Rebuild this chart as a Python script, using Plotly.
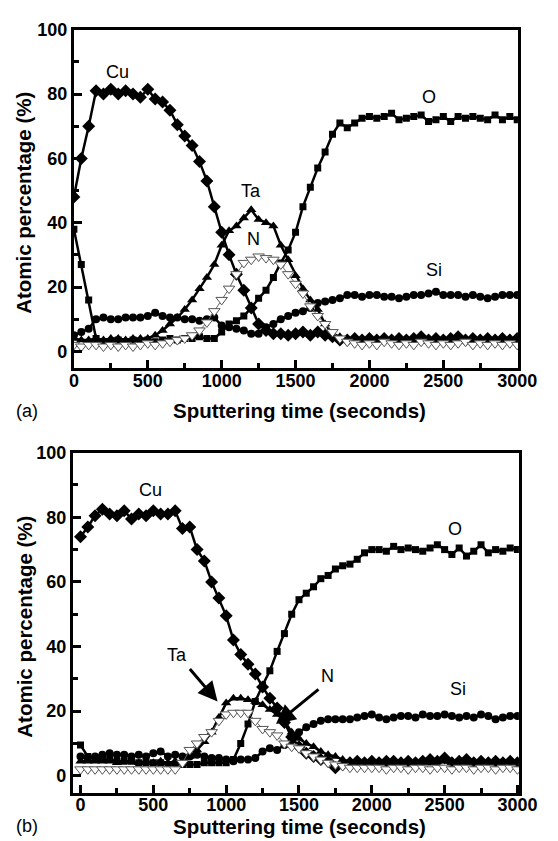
import plotly.graph_objects as go

# ---------------- data ----------------
TIME = [0, 50, 100, 150, 200, 250, 300, 350, 400, 450,
        500, 550, 600, 650, 700, 750, 800, 850, 900, 950,
        1000, 1050, 1100, 1150, 1200, 1250, 1300, 1350, 1400, 1450,
        1500, 1550, 1600, 1650, 1700, 1750, 1800, 1850, 1900, 1950,
        2000, 2050, 2100, 2150, 2200, 2250, 2300, 2350, 2400, 2450,
        2500, 2550, 2600, 2650, 2700, 2750, 2800, 2850, 2900, 2950, 3000]

# panel (a)
CU_A = [48, 60, 70, 81, 80, 81.5, 80, 81, 80, 79,
        81.5, 78.5, 77.5, 75, 70.5, 67, 64, 59, 53, 45,
        37, 30, 24, 19, 13.5, 8.5, 6.5, 5.5, 5.5, 5,
        5.5, 6, 5, 6, 5, 4.5, 3.5, 3.5, 4, 3.5,
        4, 3.5, 4, 3.5, 4, 3.5, 4, 4.5, 3.5, 4,
        3.5, 4, 4.5, 3.5, 4, 3.5, 4, 3.5, 4, 3.5, 4]
O_A = [38, 27, 16, 4, 3, 3, 3.5, 3, 3.5, 3,
       3.5, 3, 3.5, 4, 3.5, 4, 4, 4.5, 4, 4,
       6, 8.5, 9.5, 11, 13.5, 16.5, 19, 23, 27.5, 31.5,
       37, 45, 51, 57, 62, 67.5, 71, 69.5, 71, 72.5,
       73, 72.5, 73, 74, 72, 72.5, 73, 73.5, 71.5, 72,
       73, 71.5, 73, 72.5, 73, 72.5, 72, 73.5, 72, 73, 72]
SI_A = [5, 6, 7, 10, 10.5, 10, 10, 10.5, 10.5, 10.5,
        11, 12, 11, 10.5, 10.5, 10, 10, 9.5, 10, 10.5,
        8, 7.5, 7, 6.5, 5.5, 5.5, 7.5, 8.5, 10, 11,
        12, 12.5, 13.5, 15, 15.5, 16, 16.5, 17.5, 17.5, 17,
        17.5, 17.5, 17, 17, 16.5, 17, 17.5, 17.5, 18, 18.5,
        17.5, 17.5, 17.5, 17, 17.5, 17, 16.5, 17, 17.5, 17.5, 17.5]
TA_A = [4, 3.5, 3.5, 4, 3.5, 4, 4, 3.5, 4, 4,
        4, 5, 6.5, 8.5, 10.5, 13, 16, 19.5, 23, 27,
        33, 37.5, 39, 41.5, 44, 41, 40, 39, 33, 28.5,
        23.5, 19.5, 16, 13, 8.5, 5.5, 4.5, 3.5, 4, 3.5,
        3, 3.5, 4, 3.5, 3, 3.5, 4, 3.5, 3, 4,
        3.5, 3, 4, 3.5, 3, 4, 3.5, 3, 3.5, 4, 3.5]
N_A = [2, 1.5, 2, 2, 1.5, 2, 1.5, 2, 1.5, 2,
       2.5, 2, 2.5, 3, 3.5, 4, 5, 6.5, 9, 12.5,
       16, 19.5, 24, 27.5, 28.5, 29.5, 29, 28.5, 27, 24,
       21, 18, 14, 11, 8.5, 6, 4, 3, 2.5, 2,
       2.5, 2, 3, 2.5, 2, 2.5, 2, 3, 2.5, 2,
       2.5, 2, 2.5, 3, 2, 2.5, 2, 2.5, 2, 2.5, 2]

# panel (b)
CU_B = [74, 77, 80.5, 82.5, 81, 80.5, 82, 79.5, 81, 80.5,
        82, 81, 81, 82, 76.5, 77, 70, 66.5, 60, 55,
        49.5, 42, 37.5, 34.5, 31.5, 27.5, 24, 21, 16.5, 12,
        9, 7, 6, 5, 4.5, 2.5, 3.5, 4, 4.5, 4,
        4.5, 4, 4.5, 4.5, 4, 4.5, 4, 4.5, 5, 4.5,
        5.5, 4, 4.5, 5, 4, 4.5, 4, 4.5, 4, 4.5, 4]
O_B = [9.5, 6, 5.5, 5, 5, 4.5, 4.5, 4.5, 4, 4,
       4, 4, 3.5, 3.5, 3.5, 3.5, 3.5, 4, 4, 4,
       4, 5, 10, 16, 23, 28, 32.5, 38.5, 44, 50,
       54.5, 56.5, 58.5, 61, 62, 64, 65, 65.5, 67, 69,
       70, 70, 69.5, 71, 70, 70.5, 70, 69.5, 70.5, 71.5,
       70, 68.5, 70.5, 68, 69.5, 71.5, 69, 70, 69.5, 70.5, 70]
SI_B = [6, 5.5, 6, 6.5, 7, 6.5, 6.5, 6, 6.5, 6,
        7, 7.5, 6, 6.5, 6, 6, 6.5, 6, 5.5, 5.5,
        5, 4.5, 5, 5, 5.5, 7.5, 8.5, 8, 9.5, 11,
        13.5, 15, 16, 17, 17.5, 17.5, 17.5, 17.5, 18, 18.5,
        19, 18, 17.5, 18, 18.5, 18.5, 18, 19, 18.5, 18.5,
        19, 18.5, 18, 18.5, 18, 19, 18.5, 17.5, 18, 18.5, 18.5]
TA_B = [4.5, 4.5, 4.5, 4.5, 4.5, 4, 4.5, 4.5, 4, 4.5,
        4, 4.5, 4, 4.5, 4.5, 6, 8, 10.5, 13.5, 18,
        22.5, 24, 24, 23.5, 23, 22, 20.5, 19, 17, 13.5,
        11.5, 10, 9, 7.5, 6.5, 6, 5, 4.5, 4.5, 4,
        4, 4.5, 4, 4.5, 4, 4.5, 4, 4.5, 4, 4.5,
        4.5, 4, 4.5, 4, 4.5, 4, 4.5, 4, 4.5, 4, 4.5]
N_B = [2, 2, 2, 2, 2, 2, 2, 2, 2, 2,
       2, 2, 2, 2, 4, 8, 10, 12, 13.5, 17,
       19, 19.5, 19.5, 19.5, 17, 14.5, 13.5, 12.5, 10, 9,
       8.5, 7, 6, 5, 4, 3.5, 3, 2.5, 2.5, 2.5,
       2.5, 2.5, 2, 2.5, 2.5, 2, 2.5, 2.5, 2, 2.5,
       2.5, 2, 2.5, 2.5, 2, 2.5, 2.5, 2, 2.5, 2.5, 2]

W, H = 558, 841
FONT = "Liberation Sans"

fig = go.Figure()


def add_panel(xa, ya, o, si, cu, ta, n):
    common = dict(x=TIME, mode="lines+markers", xaxis=xa, yaxis=ya, showlegend=False)
    fig.add_trace(go.Scatter(y=o, line=dict(color="black", width=2.5),
                             marker=dict(symbol="square", size=7, color="black"), **common))
    fig.add_trace(go.Scatter(y=si, line=dict(color="black", width=2.5),
                             marker=dict(symbol="circle", size=8, color="black"), **common))
    fig.add_trace(go.Scatter(y=cu, line=dict(color="black", width=2.5),
                             marker=dict(symbol="diamond", size=10, color="black"), **common))
    fig.add_trace(go.Scatter(y=ta, line=dict(color="black", width=2.5),
                             marker=dict(symbol="triangle-up", size=9, color="black"), **common))
    fig.add_trace(go.Scatter(y=n, line=dict(color="#666666", width=1),
                             marker=dict(symbol="triangle-down", size=10, color="white",
                                         line=dict(color="#555555", width=1)), **common))


add_panel("x", "y", O_A, SI_A, CU_A, TA_A, N_A)
add_panel("x2", "y2", O_B, SI_B, CU_B, TA_B, N_B)

tickfont = dict(family=FONT, size=18, color="black", weight="bold")
axis_common = dict(showline=True, linewidth=3, linecolor="black", mirror=True,
                   ticks="inside", ticklen=8, tickwidth=3, tickcolor="black",
                   showgrid=False, zeroline=False, tickfont=tickfont)

fig.update_layout(
    width=W, height=H, margin=dict(l=0, r=0, t=0, b=0),
    paper_bgcolor="white", plot_bgcolor="white",
    xaxis=dict(domain=[72 / W, 536 / W], range=[0, 3005], dtick=500, anchor="y",
               ticklabelstandoff=-6,
               minor=dict(ticks="inside", ticklen=5, tickwidth=3, dtick=250, tickcolor="black"),
               **axis_common),
    yaxis=dict(domain=[1 - 362.7 / H, 1 - 20 / H], range=[-5.3, 100], dtick=20, anchor="x",
               minor=dict(ticks="inside", ticklen=5, tickwidth=3, dtick=10, tickcolor="black"),
               **axis_common),
    xaxis2=dict(domain=[71 / W, 537 / W], range=[-52, 3010], dtick=500, anchor="y2",
                ticklabelstandoff=-6,
                minor=dict(ticks="inside", ticklen=5, tickwidth=3, dtick=250, tickcolor="black"),
                **axis_common),
    yaxis2=dict(domain=[1 - 792 / H, 1 - 448 / H], range=[-5.2, 100], dtick=20, anchor="x2",
                minor=dict(ticks="inside", ticklen=5, tickwidth=3, dtick=10, tickcolor="black"),
                **axis_common),
)

title_font = dict(family=FONT, size=20.5, color="black", weight="bold")
label_font = dict(family=FONT, size=18, color="black")

ann = []
# axis titles
for yc in (405, 826):
    ann.append(dict(text="Sputtering time (seconds)", x=308 / W, y=1 - yc / H,
                    xref="paper", yref="paper", showarrow=False, font=title_font,
                    xanchor="center", yanchor="middle"))
for yc in (195, 624):
    ann.append(dict(text="Atomic percentage (%)", x=20 / W, y=1 - yc / H, textangle=-90,
                    xref="paper", yref="paper", showarrow=False, font=title_font,
                    xanchor="center", yanchor="middle"))
# panel letters
ann.append(dict(text="(a)", x=23 / W, y=1 - 406 / H, xref="paper", yref="paper",
                showarrow=False, font=label_font, xanchor="center", yanchor="middle"))
ann.append(dict(text="(b)", x=23 / W, y=1 - 826 / H, xref="paper", yref="paper",
                showarrow=False, font=label_font, xanchor="center", yanchor="middle"))

# element labels, panel (a)
for txt, xv, yv in [("Cu", 298, 87), ("Ta", 1199, 50), ("N", 1218, 35),
                    ("O", 2404, 79), ("Si", 2436, 25.2)]:
    ann.append(dict(text=txt, x=xv, y=yv, xref="x", yref="y", showarrow=False,
                    font=label_font, xanchor="center", yanchor="middle"))
# element labels, panel (b)
for txt, xv, yv in [("Cu", 480, 88.6), ("Ta", 665, 37.5), ("N", 1698, 31),
                    ("O", 2573, 76.3), ("Si", 2593, 26.8)]:
    ann.append(dict(text=txt, x=xv, y=yv, xref="x2", yref="y2", showarrow=False,
                    font=label_font, xanchor="center", yanchor="middle"))
# arrows, panel (b)
ann.append(dict(text="", x=941, y=23, xref="x2", yref="y2", showarrow=True,
                ax=-29, ay=-34, arrowhead=2, arrowsize=1.3, arrowwidth=3, arrowcolor="black"))
ann.append(dict(text="", x=1342, y=16, xref="x2", yref="y2", showarrow=True,
                ax=44, ay=-36, arrowhead=2, arrowsize=1.3, arrowwidth=3, arrowcolor="black"))

fig.update_layout(annotations=ann)
fig.write_html("out.html")
